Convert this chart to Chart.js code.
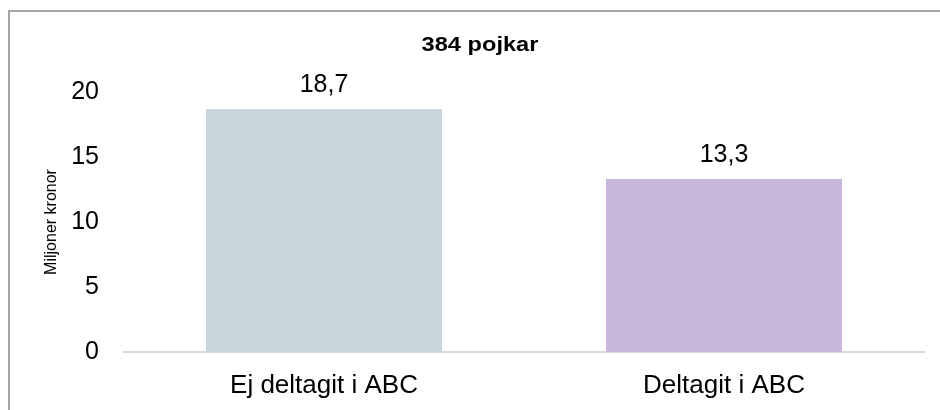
<!DOCTYPE html>
<html>
<head>
<meta charset="utf-8">
<script src="https://cdn.jsdelivr.net/npm/chart.js@4"></script>
<style>
  html, body { margin: 0; padding: 0; background: #fff; }
  body { width: 940px; height: 410px; position: relative; overflow: hidden; }
  #frame { position: absolute; left: 8px; top: 10px; width: 1000px; height: 500px;
           border-top: 2px solid #a6a6a6; border-left: 2px solid #a6a6a6; }
  #c { position: absolute; left: 0; top: 0; }
</style>
</head>
<body>
<div id="frame"></div>
<canvas id="c" width="940" height="410"></canvas>
<script>
const categories = ["Ej deltagit i ABC", "Deltagit i ABC"];
const values = [18.7, 13.3];
const barColors = ["#C9D6DE", "#C8B8DC"];
const yTicks = [0, 5, 10, 15, 20];
const chartTitle = "384 pojkar";
const yAxisTitle = "Miljoner kronor";

const FONT = "'Liberation Sans', Arial, sans-serif";

const textPlugin = {
  id: 'textPlugin',
  afterDatasetsDraw(chart) {
    const ctx = chart.ctx;
    const meta = chart.getDatasetMeta(0);
    ctx.save();
    ctx.fillStyle = "#000";
    ctx.textAlign = "center";
    ctx.textBaseline = "alphabetic";
    // value labels
    ctx.font = "25px " + FONT;
    meta.data.forEach((bar, i) => {
      ctx.fillText(values[i].toFixed(1).replace('.', ','), bar.x, bar.y - 17);
    });
    // chart title (slightly wide, as in the reference)
    ctx.font = "bold 20px " + FONT;
    ctx.translate(480, 51);
    ctx.scale(1.18, 1);
    ctx.fillText(chartTitle, 0, 0);
    ctx.restore();
  }
};

new Chart(document.getElementById('c'), {
  type: 'bar',
  data: {
    labels: categories,
    datasets: [{
      data: values,
      backgroundColor: barColors,
      borderWidth: 0,
      barPercentage: 0.59,
      categoryPercentage: 1.0
    }]
  },
  options: {
    responsive: false,
    animation: false,
    devicePixelRatio: 1,
    layout: { padding: { left: 0, right: 16, top: 92, bottom: 0 } },
    plugins: {
      legend: { display: false },
      tooltip: { enabled: false },
      title: { display: false }
    },
    scales: {
      x: {
        grid: { display: false, drawTicks: false },
        border: { display: true, color: "#d9d9d9", width: 2 },
        ticks: { color: "#000", font: { family: FONT, size: 26 }, padding: 18, maxRotation: 0 },
        afterFit(s) { s.height = 58; }
      },
      y: {
        min: 0, max: 20,
        grid: { display: false, drawTicks: false },
        border: { display: false },
        afterBuildTicks(s) { s.ticks = yTicks.map(v => ({ value: v })); },
        ticks: { color: "#000", font: { family: FONT, size: 25 }, padding: 25 },
        title: {
          display: true, text: yAxisTitle, color: "#000",
          font: { family: FONT, size: 16 }, padding: { top: 42, bottom: 0 }
        },
        afterFit(s) { s.width = 124; }
      }
    }
  },
  plugins: [textPlugin]
});
</script>
</body>
</html>
